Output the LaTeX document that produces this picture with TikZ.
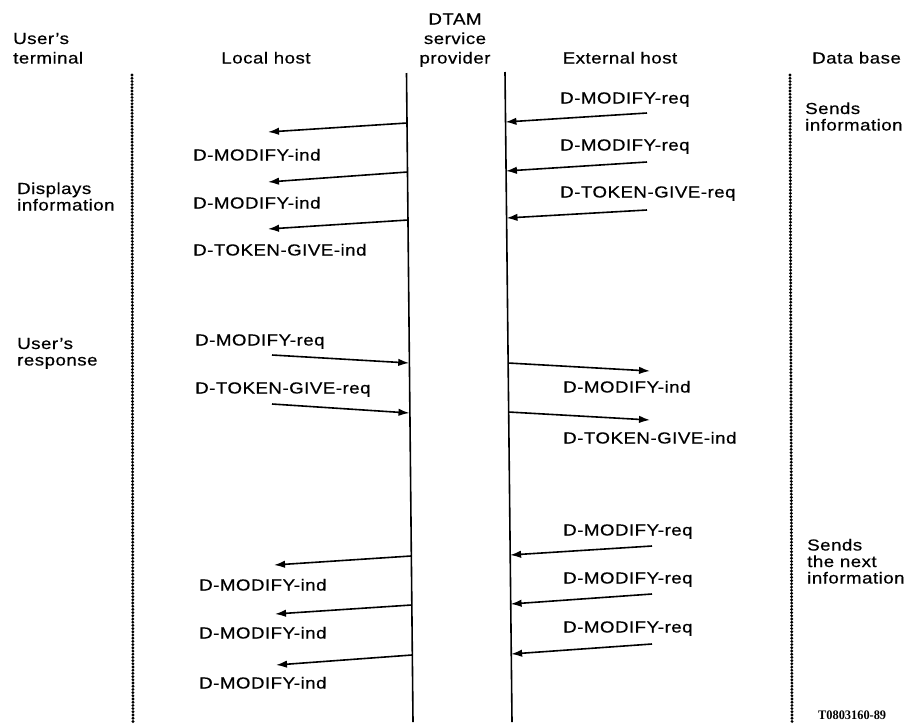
\documentclass[tikz,border=0pt]{standalone}
\usepackage{fontspec}
\setmainfont{Liberation Sans}[FakeStretch=1.17,LetterSpace=3,FakeBold=0.4]
\newfontfamily\codefont{Liberation Serif}[FakeStretch=0.95]
\usetikzlibrary{arrows.meta}
\begin{document}
\begin{tikzpicture}[x=1pt,y=-1pt,
  lbl/.style={anchor=base west,inner sep=0pt,font=\fontsize{16}{18}\selectfont},
  hdr/.style={anchor=base,inner sep=0pt,align=center,font=\fontsize{16}{19.5}\selectfont},
  hdrl/.style={anchor=base west,inner sep=0pt,align=left,font=\fontsize{16}{19.5}\selectfont},
  note/.style={anchor=base west,inner sep=0pt,align=left,font=\fontsize{16}{16.5}\selectfont},
  lifeline/.style={line width=1.6pt},
  dotline/.style={line width=3.2pt,dash pattern=on 0pt off 3.2pt,line cap=round},
  msg/.style={line width=1.6pt,-{Latex[length=11pt,width=7.5pt]}}]
\useasboundingbox (0,0) rectangle (909,726);

% headers
\node[hdrl] (hterm) at (13,63.5) {User's\\terminal};
\node[hdr] (hlocal) at (266,63.5) {Local host};
\node[hdr] (hdtam) at (455,63.5) {DTAM\\service\\provider};
\node[hdr] (hext) at (620,63.5) {External host};
\node[hdrl] (hdb) at (812,63.5) {Data base};

% life lines
\coordinate (dlT) at (132,75);  \coordinate (dlB) at (133,722);
\coordinate (lhT) at (406.5,73); \coordinate (lhB) at (413,722);
\coordinate (ehT) at (505,72);  \coordinate (ehB) at (512,722);
\coordinate (drT) at (790,75);  \coordinate (drB) at (792,722);
\draw[dotline] (dlT) -- (dlB);
\draw[dotline] (drT) -- (drB);
\draw[lifeline] (lhT) -- (lhB);
\draw[lifeline] (ehT) -- (ehB);

% side notes
\node[note] (ndisp) at (17,210.5) {Displays\\information};
\node[note] (nresp) at (17,365.5) {User's\\response};
\node[note] (nsend) at (805,130.5) {Sends\\information};
\node[note] (nnext) at (807,583.5) {Sends\\the next\\information};

% group 1: external host -> provider
\node[lbl] (r1) at (560,103.5) {D-MODIFY-req};
\node[lbl] (r2) at (560,150.5) {D-MODIFY-req};
\node[lbl] (r3) at (560,197.5) {D-TOKEN-GIVE-req};
\coordinate (r1s) at (647,113); \coordinate (r1e) at (505.4,122);
\coordinate (r2s) at (647,162); \coordinate (r2e) at (505.9,171);
\coordinate (r3s) at (647,210); \coordinate (r3e) at (506.5,218);
\draw[msg] (r1s) -- (r1e);
\draw[msg] (r2s) -- (r2e);
\draw[msg] (r3s) -- (r3e);

% group 1: provider -> local host
\coordinate (l1s) at (407,123); \coordinate (l1e) at (268,132);
\coordinate (l2s) at (407.5,172); \coordinate (l2e) at (268,182);
\coordinate (l3s) at (408,220); \coordinate (l3e) at (268,229);
\draw[msg] (l1s) -- (l1e);
\draw[msg] (l2s) -- (l2e);
\draw[msg] (l3s) -- (l3e);
\node[lbl] (l1) at (193,160.5) {D-MODIFY-ind};
\node[lbl] (l2) at (193,208.5) {D-MODIFY-ind};
\node[lbl] (l3) at (193,255.5) {D-TOKEN-GIVE-ind};

% group 2: local host -> provider -> external host
\node[lbl] (u1) at (195,345.5) {D-MODIFY-req};
\node[lbl] (u2) at (195,393.5) {D-TOKEN-GIVE-req};
\coordinate (u1s) at (272,355); \coordinate (u1e) at (409.2,363);
\coordinate (u2s) at (272,404); \coordinate (u2e) at (409.5,413);
\draw[msg] (u1s) -- (u1e);
\draw[msg] (u2s) -- (u2e);
\coordinate (x1s) at (508.1,363); \coordinate (x1e) at (650,371);
\coordinate (x2s) at (508.4,412); \coordinate (x2e) at (650,420);
\draw[msg] (x1s) -- (x1e);
\draw[msg] (x2s) -- (x2e);
\node[lbl] (x1) at (563,392.5) {D-MODIFY-ind};
\node[lbl] (x2) at (563,443.5) {D-TOKEN-GIVE-ind};

% group 3: external host -> provider
\node[lbl] (s1) at (563,535.5) {D-MODIFY-req};
\node[lbl] (s2) at (563,583.5) {D-MODIFY-req};
\node[lbl] (s3) at (563,632.5) {D-MODIFY-req};
\coordinate (s1s) at (652,546); \coordinate (s1e) at (510.1,555);
\coordinate (s2s) at (652,594); \coordinate (s2e) at (510.6,604);
\coordinate (s3s) at (652,644); \coordinate (s3e) at (511.1,654);
\draw[msg] (s1s) -- (s1e);
\draw[msg] (s2s) -- (s2e);
\draw[msg] (s3s) -- (s3e);

% group 3: provider -> local host
\coordinate (m1s) at (411,556); \coordinate (m1e) at (274,565);
\coordinate (m2s) at (411.5,605); \coordinate (m2e) at (275,614);
\coordinate (m3s) at (412,655); \coordinate (m3e) at (276,665);
\draw[msg] (m1s) -- (m1e);
\draw[msg] (m2s) -- (m2e);
\draw[msg] (m3s) -- (m3e);
\node[lbl] (m1) at (199,590.5) {D-MODIFY-ind};
\node[lbl] (m2) at (199,638.5) {D-MODIFY-ind};
\node[lbl] (m3) at (199,688.5) {D-MODIFY-ind};

% figure reference
\node[anchor=base west,inner sep=0pt,font=\codefont\bfseries\fontsize{13}{14}\selectfont] (ref) at (818,719.5) {T0803160-89};
\end{tikzpicture}
\end{document}
